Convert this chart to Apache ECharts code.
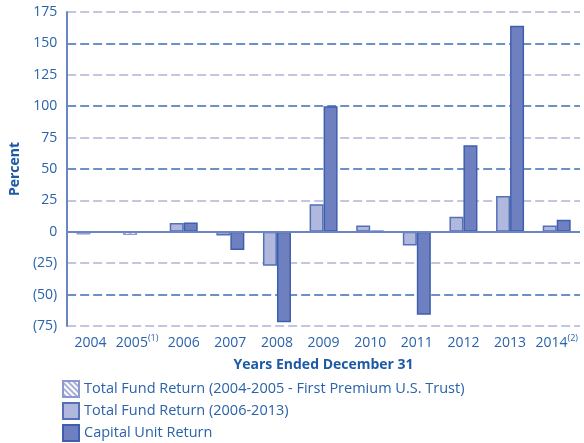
<!DOCTYPE html>
<html>
<head>
<meta charset="UTF-8">
<title>Fund returns</title>
<script src="https://cdn.jsdelivr.net/npm/echarts@6/dist/echarts.min.js"></script>
<style>
  html, body { margin: 0; padding: 0; background: #fff; }
  #chart { width: 584px; height: 443px; }
</style>
</head>
<body>
<div id="chart"></div>
<script>
// data
var years = ['2004', '2005', '2006', '2007', '2008', '2009', '2010', '2011', '2012', '2013', '2014'];
var footnotes = {'2005': '(1)', '2014': '(2)'};
var trustReturn = [-2, -2.5, null, null, null, null, null, null, null, null, null];
var fundReturn = [null, null, 7, -3, -27, 22, 5, -11, 12, 28.5, 5];
var capitalReturn = [null, null, 7.5, -14.5, -72, 100, 0.8, -66, 69, 164, 9.5];

var textColor = '#2a62ab';
var titleColor = '#1d5aa6';
var font = 'Open Sans';

var chart = echarts.init(document.getElementById('chart'));

var option = {
    animation: false,
    textStyle: { fontFamily: font },
    grid: { left: 60, right: 4, top: 12, bottom: 117 },
    legend: {
        orient: 'vertical',
        left: 62,
        top: 380,
        height: 200,
        padding: 0,
        icon: 'rect',
        itemWidth: 16,
        itemHeight: 16,
        itemGap: 4,
        selectedMode: false,
        textStyle: { fontSize: 14.5, lineHeight: 16, color: textColor, fontFamily: font }
    },
    xAxis: {
        type: 'category',
        data: years,
        axisLine: { show: false, onZero: false },
        axisTick: { show: false },
        axisLabel: {
            margin: 8,
            interval: 0,
            formatter: function (v) {
                return footnotes[v] ? '{a|' + v + '}{s|' + footnotes[v] + '}' : '{a|' + v + '}';
            },
            rich: {
                a: { fontSize: 14, color: textColor, fontFamily: font, lineHeight: 18 },
                s: { fontSize: 9, color: textColor, fontFamily: font, lineHeight: 18, verticalAlign: 'top' }
            }
        },
        name: 'Years Ended December 31',
        nameLocation: 'middle',
        nameGap: 32,
        nameTextStyle: { fontSize: 14, fontWeight: 'bold', color: titleColor, fontFamily: font }
    },
    yAxis: {
        type: 'value',
        min: -75,
        max: 175,
        interval: 25,
        axisLine: { show: true, lineStyle: { color: '#6b84c4', width: 2 } },
        axisTick: { show: false },
        axisLabel: {
            fontSize: 14,
            color: textColor,
            margin: 10,
            formatter: function (v) { return v < 0 ? '(' + (-v) + ')' : String(v); }
        },
        splitLine: {
            show: true,
            lineStyle: { color: ['#adb4da', '#3d6db3'], width: 1.5, type: [9, 4] }
        },
        name: 'Percent',
        nameLocation: 'middle',
        nameGap: 42,
        nameTextStyle: { fontSize: 14, fontWeight: 'bold', color: titleColor, fontFamily: font }
    },
    series: [
        {
            name: 'Total Fund Return (2004-2005 - First Premium U.S. Trust)',
            type: 'bar',
            stack: 'fund',
            barWidth: 14,
            barGap: '0%',
            data: trustReturn,
            itemStyle: {
                color: '#ffffff',
                borderColor: '#8d98cf',
                borderWidth: 1,
                decal: {
                    symbol: 'rect',
                    symbolSize: 1,
                    color: '#a7b0da',
                    dashArrayX: [1, 0],
                    dashArrayY: [2, 2],
                    rotation: Math.PI / 4
                }
            }
        },
        {
            name: 'Total Fund Return (2006-2013)',
            type: 'bar',
            stack: 'fund',
            barWidth: 14,
            barGap: '0%',
            data: fundReturn,
            itemStyle: { color: '#b1b8dd', borderColor: '#5670b6', borderWidth: 1.5 }
        },
        {
            name: 'Capital Unit Return',
            type: 'bar',
            barWidth: 14,
            barGap: '0%',
            data: capitalReturn,
            itemStyle: { color: '#6f80c0', borderColor: '#3f5fae', borderWidth: 1.5 },
            markLine: {
                silent: true,
                symbol: 'none',
                label: { show: false },
                lineStyle: { color: '#6b84c4', width: 2, type: 'solid' },
                data: [{ yAxis: 0 }]
            }
        }
    ]
};

chart.setOption(option);
</script>
</body>
</html>
